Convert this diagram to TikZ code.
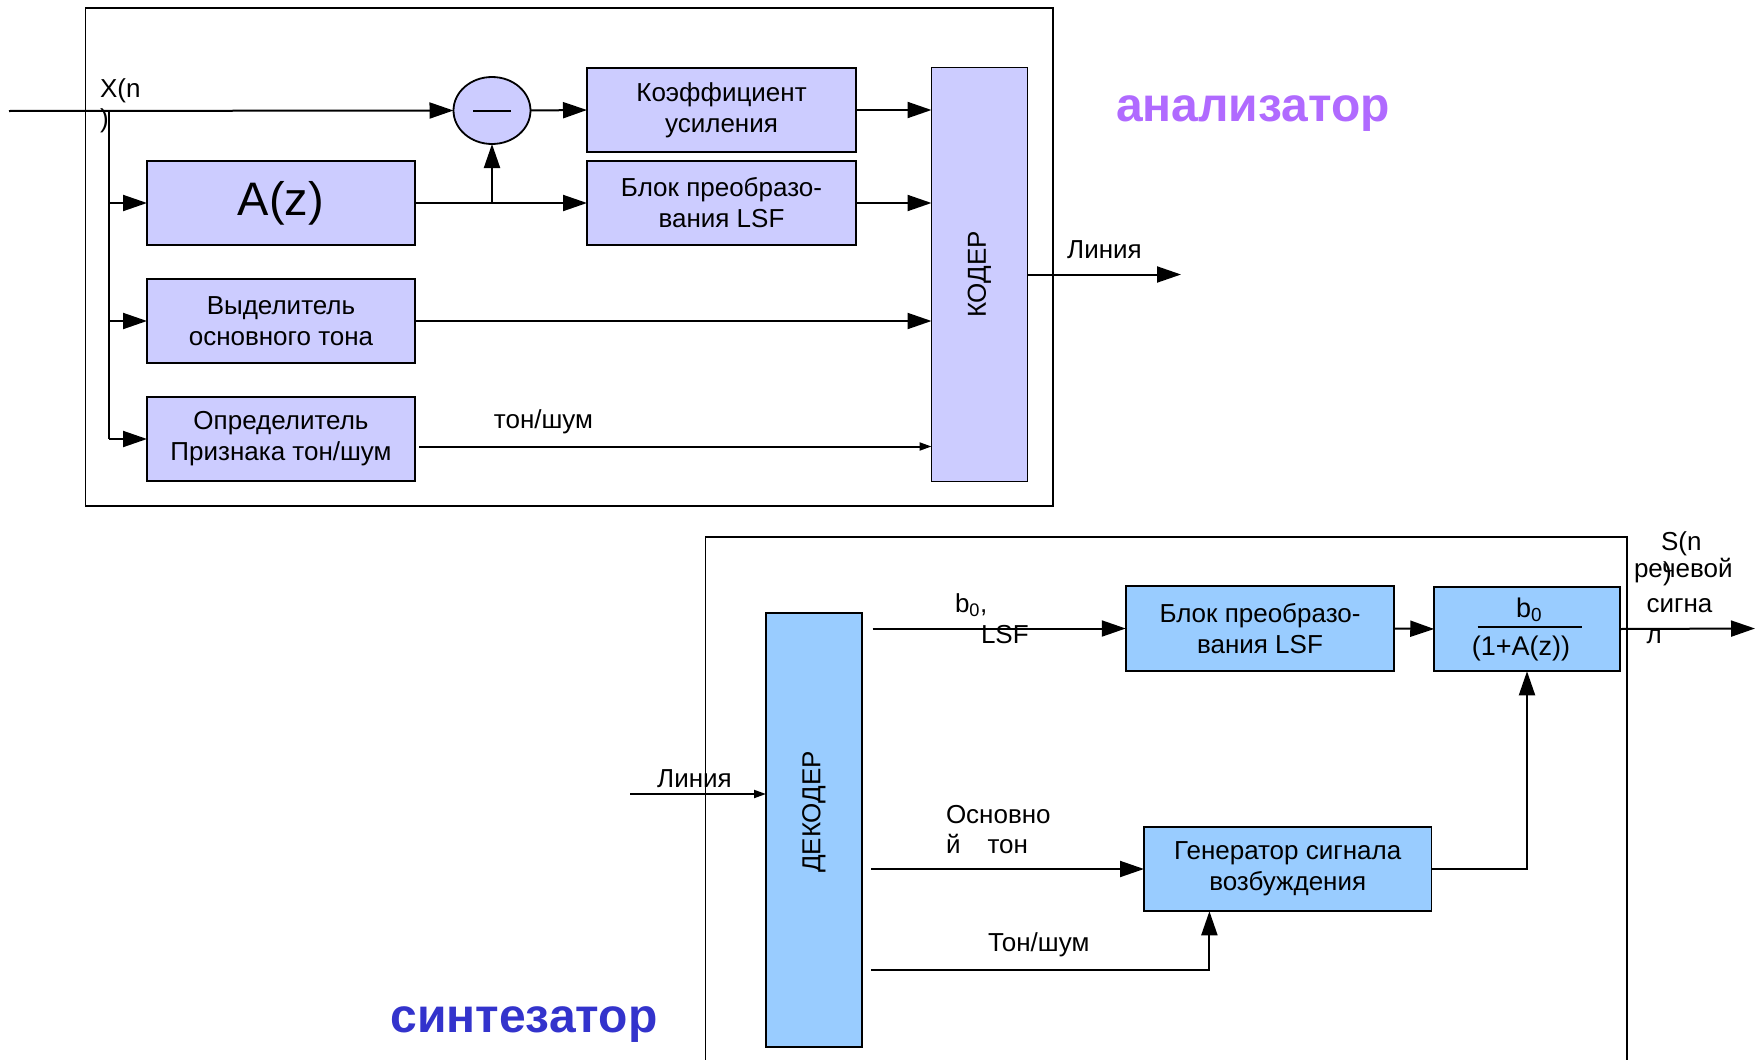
\documentclass[tikz,border=0pt]{standalone}
\usepackage{fontspec}
\setmainfont{Liberation Sans}
\usetikzlibrary{arrows.meta,shapes.geometric,calc}
\definecolor{lav}{HTML}{CCCCFF}
\definecolor{sky}{HTML}{99CCFF}
\definecolor{purp}{RGB}{176,106,255}
\definecolor{deepblue}{HTML}{3333CC}
\begin{document}
\begin{tikzpicture}[x=1pt,y=-1pt,
  every node/.style={inner sep=0pt, outer sep=0pt},
  txt/.style={font=\fontsize{26}{31}\selectfont},
  blk/.style={draw, line width=1.8pt, align=center, font=\fontsize{26}{31}\selectfont},
  lavblk/.style={blk, fill=lav},
  skyblk/.style={blk, fill=sky},
  arr/.style={line width=2pt, -{Triangle[length=24pt,width=16pt]}},
  arrs/.style={line width=2pt, -{Triangle[length=12pt,width=8pt]}},
  wire/.style={line width=2pt},
  frame/.style={line width=1.8pt},
  title/.style={font=\fontsize{48}{56}\selectfont\bfseries}
]
\useasboundingbox (0,0) rectangle (1764,1060);
% frames
\draw[frame] (85.5,8) rectangle (1053,506);
\draw[frame] (705.4,1060) -- (705.4,536.6) -- (1627,536.6) -- (1627,1060);

% ---------- analyser ----------
\node[lavblk, minimum width=268pt, minimum height=84pt, font=\fontsize{47}{56}\selectfont] (Az) at (281,203) {A(z)};
\node[lavblk, minimum width=268pt, minimum height=84pt] (Vyd) at (281,321) {Выделитель\\основного тона};
\node[lavblk, minimum width=268pt, minimum height=84pt] (Opr) at (281,439) {Определитель\\Признака тон/шум};
\node[lavblk, minimum width=269pt, minimum height=84pt] (Koef) at (721.5,110) {Коэффициент\\усиления};
\node[lavblk, minimum width=269pt, minimum height=84pt] (BlokT) at (721.5,203) {Блок преобразо-\\вания LSF};
\node[lavblk, minimum width=96pt, minimum height=414pt] (Koder) at (979.5,274.5) {};
\node[txt, rotate=90] (KoderT) at (979.5,274.5) {КОДЕР};
\node[draw, line width=1.8pt, fill=lav, ellipse, minimum width=77pt, minimum height=67pt] (circ) at (492,110.5) {};
\draw[wire] ($(circ.center)+(-19,0)$) -- ($(circ.center)+(19,0)$);

\coordinate (xin) at (9,111);
\coordinate (br) at (109,111);
\draw[arr] (xin) -- (circ.west);
\draw[wire] (br) -- (br |- Opr.west);
\draw[arr] (br |- Az.west) -- (Az.west);
\draw[arr] (br |- Vyd.west) -- (Vyd.west);
\draw[arr] (br |- Opr.west) -- (Opr.west);
\draw[arr] (Az.east) -- (BlokT.west);
\coordinate (jn) at (Az.east -| circ.south);
\draw[arr] (jn) -- (circ.south);
\draw[arr] (circ.east) -- (Koef.west);
\draw[arr] (Koef.east) -- (Koef.east -| Koder.west);
\draw[arr] (BlokT.east) -- (BlokT.east -| Koder.west);
\draw[arr] (Vyd.east) -- (Vyd.east -| Koder.west);
\coordinate (oprout) at ($(Opr.east)+(4,7.5)$);
\draw[arrs] (oprout) -- (oprout -| Koder.west);
\coordinate (lineout) at (1181,274.5);
\draw[arr] (Koder.east) -- (lineout);

\node[txt, anchor=base west] (xn1) at (100,97) {X(n};
\node[txt, anchor=base west] (xn2) at (100,127) {)};
\node[txt, anchor=base] (tonshum) at (543.5,428) {тон/шум};
\node[txt, anchor=base] (lin1) at (1104.5,258) {Линия};
\node[title, text=purp, anchor=base] (analiz) at (1253,121.7) {анализатор};

% ---------- synthesiser ----------
\node[skyblk, minimum width=96pt, minimum height=434pt] (Dek) at (814,830) {};
\node[txt, rotate=90] (DekT) at (814,812) {ДЕКОДЕР};
\node[skyblk, minimum width=268.5pt, minimum height=85pt] (BlokB) at (1260,628.5) {Блок преобразо-\\вания LSF};
\node[skyblk, minimum width=185.5pt, minimum height=84.5pt] (Frac) at (1527,629) {};
\node[font=\fontsize{27}{32}\selectfont, anchor=base west] (fnum) at (1516,617) {b\textsubscript{0}};
\draw[wire] (1477.5,626.7) -- (1582,626.7);
\node[font=\fontsize{27}{32}\selectfont, anchor=base] (fden) at (1521,655) {(1+A(z))};
\node[skyblk, minimum width=287.5pt, minimum height=84.5pt] (Gen) at (1287.75,869) {Генератор сигнала\\возбуждения};

\coordinate (linin) at (630,794);
\draw[arrs] (linin) -- (linin -| Dek.west);
\coordinate (bst) at (872.5,628.5);
\draw[arr] (bst) -- (BlokB.west);
\draw[arr] (BlokB.east) -- (Frac.west);
\coordinate (sout) at (1755,628.5);
\draw[arr] (Frac.east) -- (sout);
\coordinate (ost) at (871,869);
\draw[arr] (ost) -- (Gen.west);
\draw[arr] (Gen.east) -| (Frac.south);
\coordinate (tst) at (871,970);
\coordinate (tend) at ($(Gen.south west)+(65.4,0)$);
\draw[arr] (tst) -| (tend);

\node[txt, anchor=base west] (b0l) at (955,612) {b\textsubscript{0},};
\node[txt, anchor=base west] (lsfl) at (981,643) {LSF};
\node[txt, anchor=base west] (osn1) at (946,823) {Основно};
\node[txt, anchor=base west] (osn2) at (946,853) {й\hspace{27pt}тон};
\node[txt, anchor=base] (tonshum2) at (1038.7,951.7) {Тон/шум};
\node[txt, anchor=base] (lin2) at (694.5,787) {Линия};
\node[txt, anchor=base west] (sn1) at (1661,550) {S(n};
\node[txt, anchor=base west] (sn2) at (1663,580) {)};
\node[txt, anchor=base west] (rech) at (1634,577) {речевой};
\node[txt, anchor=base west] (sig) at (1646.6,612) {сигна};
\node[txt, anchor=base west] (sigl) at (1646.6,643) {л};
\node[title, text=deepblue, anchor=base] (sint) at (524,1032) {синтезатор};
\end{tikzpicture}
\end{document}
